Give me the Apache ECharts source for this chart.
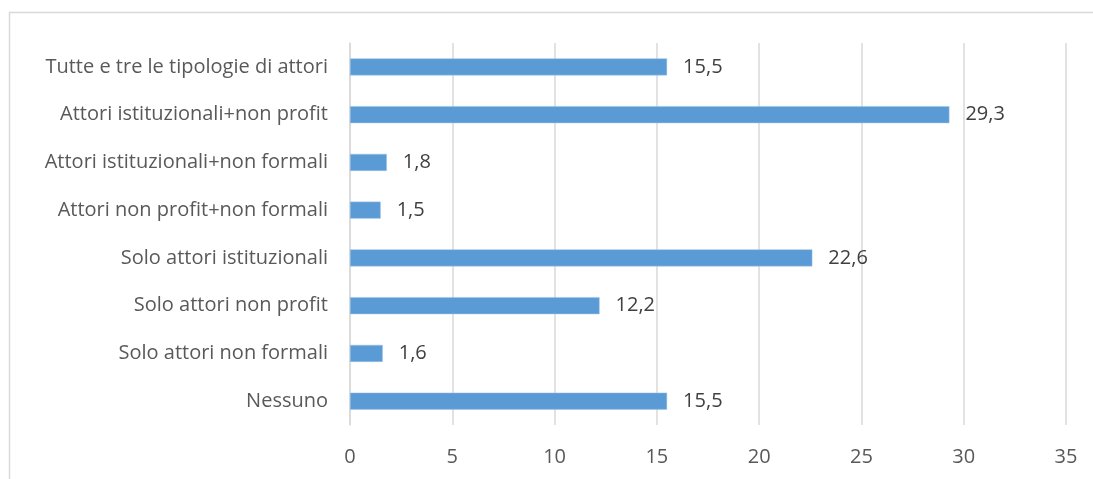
<!DOCTYPE html>
<html><head><meta charset="utf-8">
<script src="https://cdn.jsdelivr.net/npm/echarts@6/dist/echarts.min.js"></script>
<style>html,body{margin:0;padding:0;background:#fff}#c{width:1093px;height:479px}</style>
</head><body><div id="c"></div>
<script>
const categories = ["Tutte e tre le tipologie di attori","Attori istituzionali+non profit","Attori istituzionali+non formali","Attori non profit+non formali","Solo attori istituzionali","Solo attori non profit","Solo attori non formali","Nessuno"];
const values = [15.5, 29.3, 1.8, 1.5, 22.6, 12.2, 1.6, 15.5];
const xTicks = [0,5,10,15,20,25,30,35];

const chart = echarts.init(document.getElementById('c'), null, {renderer:'canvas'});
const font = '"Open Sans", sans-serif';
chart.setOption({
  animation:false,
  graphic:[{type:'rect', shape:{x:9.5,y:12.5,width:1200,height:600}, style:{fill:'none',stroke:'#d9d9d9',lineWidth:1.5}, silent:true}],
  grid:{left:350,right:27,top:43,bottom:54,containLabel:false},
  xAxis:{type:'value',min:0,max:35,interval:5,
    axisLine:{show:false},axisTick:{show:false},
    splitLine:{lineStyle:{color:'#d9d9d9',width:1.5}},
    axisLabel:{color:'#595959',fontSize:20,fontFamily:font,margin:22,
      formatter:v=>xTicks.includes(v)?String(v):''}},
  yAxis:{type:'category',data:categories.slice().reverse(),inverse:false,
    axisLine:{show:true,lineStyle:{color:'#d9d9d9',width:1.5}},axisTick:{show:false},
    axisLabel:{color:'#595959',fontSize:20,fontFamily:font,margin:22}},
  series:[{type:'bar',data:values.slice().reverse(),barWidth:17,
    itemStyle:{color:'#5B9BD5',borderColor:'#9dc3e6',borderWidth:0.5},
    label:{show:true,position:'right',distance:16,color:'#404040',fontSize:20,fontFamily:font,
      formatter:p=>String(p.value).replace('.',',')}}]
});
</script></body></html>
